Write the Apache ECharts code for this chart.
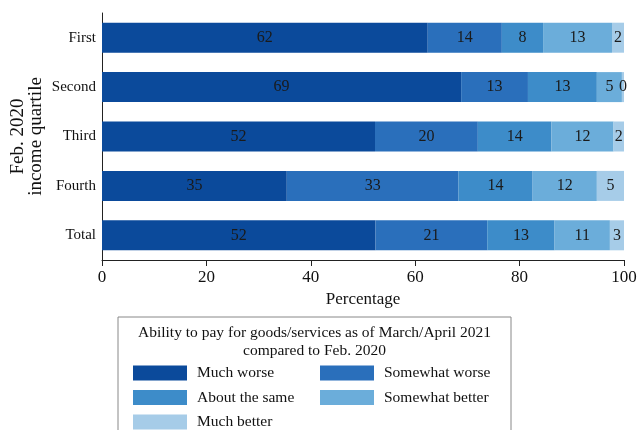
<!DOCTYPE html>
<html>
<head>
<meta charset="utf-8">
<script src="https://cdn.jsdelivr.net/npm/echarts@6/dist/echarts.min.js"></script>
<style>
  html,body{margin:0;padding:0;background:#fff;}
  #chart{width:637px;height:430px;}
</style>
</head>
<body>
<div id="chart"></div>
<script>
const quartiles = ['First', 'Second', 'Third', 'Fourth', 'Total'];
const muchWorse      = [62.4, 68.8, 52.3, 35.4, 52.4];
const somewhatWorse  = [14.2, 12.8, 19.7, 32.9, 21.4];
const aboutSame      = [7.9, 13.2, 14.1, 14.2, 12.9];
const somewhatBetter = [13.2, 4.8, 11.9, 12.3, 10.6];
const muchBetter     = [2.3, 0.4, 2.0, 5.2, 2.7];
const xTicks = [0, 20, 40, 60, 80, 100];

const font = 'Liberation Serif'
const names = ['Much worse', 'Somewhat worse', 'About the same', 'Somewhat better', 'Much better']
const colors = ['#0b4a9b', '#2a6fbb', '#3d8cc9', '#6badda', '#a6cce8']
const values = [muchWorse, somewhatWorse, aboutSame, somewhatBetter, muchBetter]

const chart = echarts.init(document.getElementById('chart'))

const legendCommon = {
  orient: 'vertical',
  top: 360,
  height: 120,
  itemWidth: 54,
  itemHeight: 15,
  itemGap: 8.5,
  icon: 'rect',
  selectedMode: false,
  textStyle: {fontFamily: font, fontSize: 15.5, color: '#111', padding: [0, 0, 0, 5]}
}

const option = {
  animation: false,
  textStyle: {fontFamily: font},
  grid: {left: 102, right: 13, top: 13, height: 247, outerBoundsMode: 'none'},
  xAxis: {
    type: 'value',
    min: xTicks[0],
    max: xTicks[xTicks.length - 1],
    interval: 20,
    splitLine: {show: false},
    axisLine: {show: true, lineStyle: {color: '#222', width: 1}},
    axisTick: {show: true, length: 6, lineStyle: {color: '#222'}},
    axisLabel: {fontFamily: font, fontSize: 17, color: '#111', margin: 9},
    name: 'Percentage',
    nameLocation: 'middle',
    nameGap: 31,
    nameTextStyle: {fontFamily: font, fontSize: 17, color: '#111'}
  },
  yAxis: {
    type: 'category',
    inverse: true,
    data: quartiles,
    axisLine: {show: true, lineStyle: {color: '#222', width: 1}},
    axisTick: {show: false},
    axisLabel: {fontFamily: font, fontSize: 15, color: '#111', margin: 6},
    name: 'Feb. 2020\nincome quartile',
    nameLocation: 'middle',
    nameRotate: 90,
    nameGap: 57,
    nameMoveOverlap: false,
    nameTextStyle: {fontFamily: font, fontSize: 19, color: '#111', lineHeight: 18}
  },
  legend: [
    Object.assign({left: 128, data: [names[0], names[2], names[4]]}, legendCommon),
    Object.assign({left: 315, data: [names[1], names[3]]}, legendCommon)
  ],
  graphic: [
    {type: 'rect', shape: {x: 118, y: 317, width: 393, height: 130},
     style: {fill: 'none', stroke: '#888', lineWidth: 1}},
    {type: 'text', x: 314.5, y: 333,
     style: {text: 'Ability to pay for goods/services as of March/April 2021', fontFamily: font,
             fontSize: 15.5, fill: '#111', align: 'center', verticalAlign: 'middle'}},
    {type: 'text', x: 314.5, y: 351,
     style: {text: 'compared to Feb. 2020', fontFamily: font,
             fontSize: 15.5, fill: '#111', align: 'center', verticalAlign: 'middle'}}
  ],
  series: names.map((n, i) => ({
    name: n,
    type: 'bar',
    stack: 'total',
    barWidth: 30,
    data: values[i],
    itemStyle: {color: colors[i]},
    label: {
      show: true,
      position: 'inside',
      fontFamily: font,
      fontSize: 16,
      color: '#1a1a1a',
      formatter: p => Math.round(p.value)
    }
  }))
}

chart.setOption(option)
</script>
</body>
</html>
